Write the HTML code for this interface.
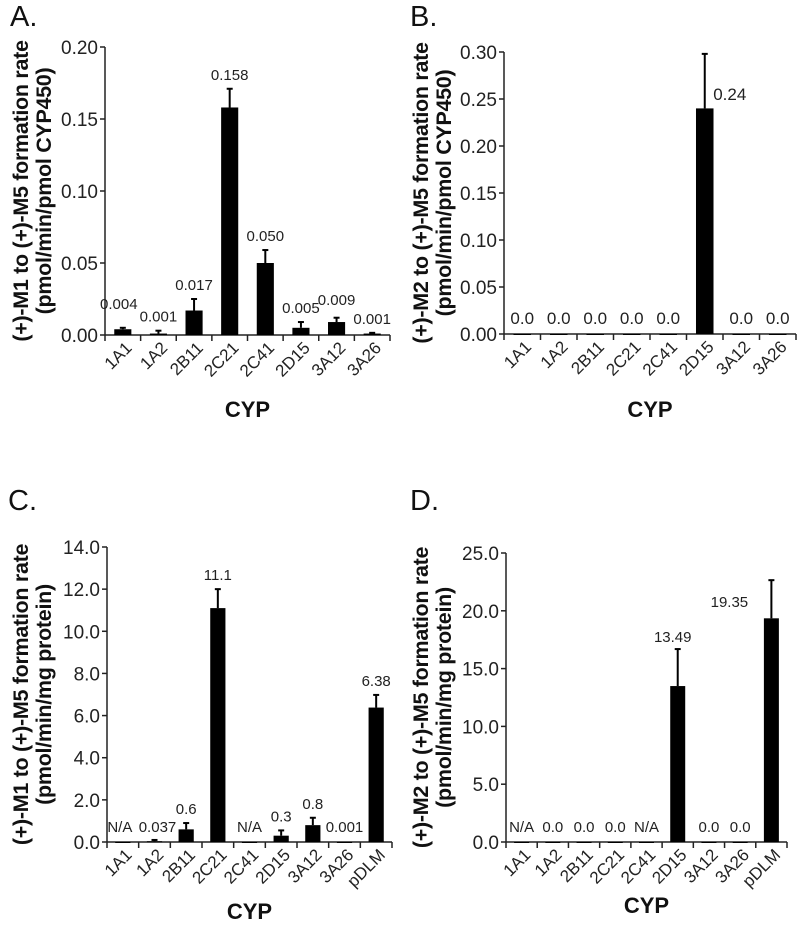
<!DOCTYPE html>
<html><head><meta charset="utf-8"><style>
html,body{margin:0;padding:0;background:#fff}
svg{display:block;font-family:"Liberation Sans",Arial,sans-serif}
</style></head><body>
<svg id="fig" width="800" height="925" viewBox="0 0 800 925"></svg>
<script>
// ---- data ----
const catsAB = ["1A1","1A2","2B11","2C21","2C41","2D15","3A12","3A26"];
const catsCD = ["1A1","1A2","2B11","2C21","2C41","2D15","3A12","3A26","pDLM"];
const valuesA = [0.004,0.001,0.017,0.158,0.050,0.005,0.009,0.001];
const errorsA = [0.001,0.002,0.008,0.013,0.009,0.004,0.003,0.0005];
const labelsA = ["0.004","0.001","0.017","0.158","0.050","0.005","0.009","0.001"];
const ticksA = ["0.00","0.05","0.10","0.15","0.20"];
const valuesB = [0,0,0,0,0,0.24,0,0];
const errorsB = [0,0,0,0,0,0.058,0,0];
const labelsB = ["0.0","0.0","0.0","0.0","0.0","0.24","0.0","0.0"];
const ticksB = ["0.00","0.05","0.10","0.15","0.20","0.25","0.30"];
const valuesC = [0,0.037,0.6,11.1,0,0.3,0.8,0.001,6.38];
const errorsC = [0,0.06,0.3,0.9,0,0.25,0.35,0,0.6];
const labelsC = ["N/A","0.037","0.6","11.1","N/A","0.3","0.8","0.001","6.38"];
const ticksC = ["0.0","2.0","4.0","6.0","8.0","10.0","12.0","14.0"];
const valuesD = [0,0,0,0,0,13.49,0,0,19.35];
const errorsD = [0,0,0,0,0,3.2,0,0,3.3];
const labelsD = ["N/A","0.0","0.0","0.0","N/A","13.49","0.0","0.0","19.35"];
const ticksD = ["0.0","5.0","10.0","15.0","20.0","25.0"];

const NS="http://www.w3.org/2000/svg";
const fig=document.getElementById('fig');
function mk(tag,attrs,parent){const e=document.createElementNS(NS,tag);for(const k in attrs)e.setAttribute(k,attrs[k]);(parent||fig).appendChild(e);return e;}

function drawChart(p){
  const g=mk('g',{});
  
  
  const ymax=parseFloat(p.ticks[p.ticks.length-1]);
  const y=v=>p.y0-(v/ymax)*(p.y0-p.yTop);
  const n=p.cats.length, step=(p.xEnd-p.x0)/n, bw=step*0.48;
  const xc=i=>p.x0+step*(i+0.5);
  const L=mk('text',{x:p.letterX,y:p.letterY,'font-size':29,fill:'#111'},g);
  L.textContent=p.id+'.';
  
  
  const ya=mk('line',{x1:p.x0,y1:p.yTop,x2:p.x0,y2:p.y0,stroke:'#222','stroke-width':1.5},g);
  
  
  const xa=mk('line',{x1:p.x0,y1:p.y0,x2:p.xEnd,y2:p.y0,stroke:'#222','stroke-width':1.5},g);
  
  
  p.ticks.forEach(t=>{
    const yy=y(parseFloat(t));
    mk('line',{x1:p.x0-5,y1:yy,x2:p.x0,y2:yy,stroke:'#222','stroke-width':1.5},g);
    const tx=mk('text',{x:p.x0-7,y:yy+7,'font-size':19,'text-anchor':'end',fill:'#222'},g);
    tx.textContent=t;
    
    
  });
  for(let i=0;i<=n;i++){const xx=p.x0+step*i;mk('line',{x1:xx,y1:p.y0,x2:xx,y2:p.y0+6,stroke:'#222','stroke-width':1.5},g);}
  p.cats.forEach((c,i)=>{
    const v=p.values[i], e=p.errors[i];
    const top=y(v);
    const b=mk('rect',{x:xc(i)-bw/2,y:top,width:bw,height:Math.max(p.y0-top,1),fill:'#000'},g);
    
    
    if(e>0){
      const et=y(v+e);
      mk('line',{x1:xc(i),y1:top,x2:xc(i),y2:et,stroke:'#000','stroke-width':2},g);
      mk('line',{x1:xc(i)-3,y1:et,x2:xc(i)+3,y2:et,stroke:'#000','stroke-width':2},g);
    }
    const ov=(p.over&&p.over[i])||{};
    let ly = p.fixedLabelY && !ov.y ? p.fixedLabelY : y(v+e)-9;
    if(ov.y) ly=ov.y;
    const lx=xc(i)+(ov.dx||0);
    const lt=mk('text',{x:lx,y:ly,'font-size':p.lfs,'text-anchor':'middle',fill:'#222'},g);
    lt.textContent=p.labels[i];
    
    
    const ct=mk('text',{x:0,y:0,'font-size':17,'text-anchor':'end',fill:'#222',transform:`translate(${xc(i)+10},${p.y0+14}) rotate(-45)`},g);
    ct.textContent=c;
    
    
  });
  const cy=(p.yTop+p.y0)/2;
  const yt=mk('text',{x:0,y:0,'font-size':21.5,'font-weight':'bold','text-anchor':'middle',fill:'#111','letter-spacing':'-0.3',transform:`translate(${p.titleX},${cy}) rotate(-90)`},g);
  const t1=mk('tspan',{x:0,dy:0},yt); t1.textContent=p.title1;
  const t2=mk('tspan',{x:0,dy:23},yt); t2.textContent=p.title2;
  
  
  const xt=mk('text',{x:(p.x0+p.xEnd)/2,y:p.cypY,'font-size':22,'font-weight':'bold','text-anchor':'middle',fill:'#111'},g);
  xt.textContent='CYP';
  
  
}

drawChart({id:'A',cats:catsAB,values:valuesA,errors:errorsA,labels:labelsA,ticks:ticksA,
  x0:105,xEnd:390,y0:335,yTop:47,letterX:10,letterY:26,titleX:28,lfs:15,cypY:417,
  title1:'(+)-M1 to (+)-M5 formation rate',title2:'(pmol/min/pmol CYP450)',
  over:{0:{y:309,dx:-4},6:{y:305}}});
drawChart({id:'B',cats:catsAB,values:valuesB,errors:errorsB,labels:labelsB,ticks:ticksB,
  x0:504,xEnd:796,y0:334,yTop:52,letterX:410,letterY:26,titleX:428,lfs:17,cypY:417,fixedLabelY:324,
  title1:'(+)-M2 to (+)-M5 formation rate',title2:'(pmol/min/pmol CYP450)',
  over:{5:{y:100,dx:25}}});
drawChart({id:'C',cats:catsCD,values:valuesC,errors:errorsC,labels:labelsC,ticks:ticksC,
  x0:107,xEnd:392,y0:842,yTop:547,letterX:8,letterY:510,titleX:28,lfs:15,cypY:919,
  title1:'(+)-M1 to (+)-M5 formation rate',title2:'(pmol/min/mg protein)',
  over:{0:{y:832,dx:-3},1:{y:832,dx:3},4:{y:832},7:{y:832}}});
drawChart({id:'D',cats:catsCD,values:valuesD,errors:errorsD,labels:labelsD,ticks:ticksD,
  x0:506,xEnd:787,y0:842,yTop:553,letterX:410,letterY:510,titleX:428,lfs:15,cypY:913,fixedLabelY:832,
  title1:'(+)-M2 to (+)-M5 formation rate',title2:'(pmol/min/mg protein)',
  over:{5:{y:642,dx:-5},8:{y:607,dx:-42}}});
</script>
</body></html>
